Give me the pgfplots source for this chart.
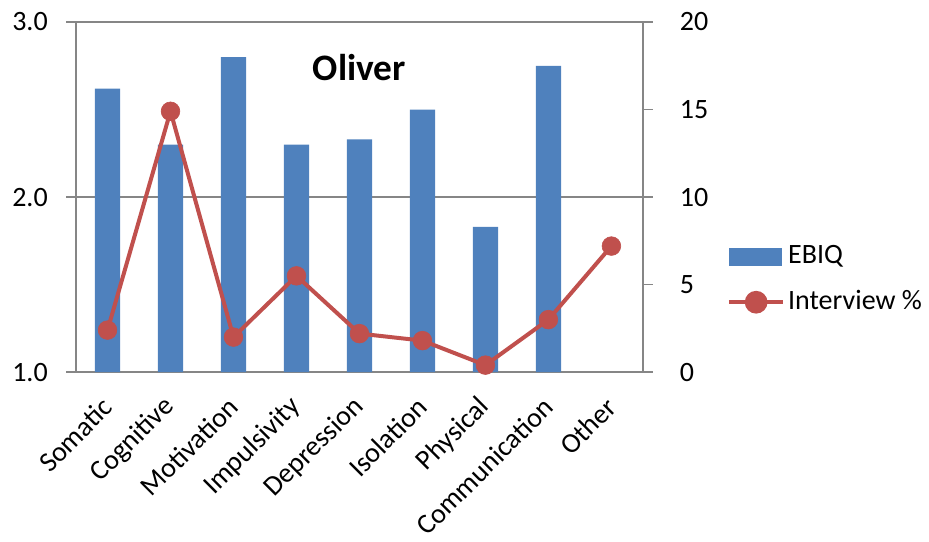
\documentclass[border=0pt]{standalone}
\usepackage{fontspec}
\setmainfont{Carlito}
\usepackage{pgfplots}
\pgfplotsset{compat=1.18}

\definecolor{barblue}{HTML}{4F81BD}
\definecolor{linered}{HTML}{C0504D}
\definecolor{axisgray}{HTML}{868686}

\begin{document}
\fontsize{21}{25}\selectfont
\begin{tikzpicture}
\pgfplotsset{
  common/.style={
    scale only axis,
    width=425pt, height=262.5pt,
    xmin=-0.5, xmax=8.5,
    /pgf/number format/assume math mode=true,
    tick label style={font=\fontsize{21}{25}\selectfont},
    axis line style={axisgray, line width=1pt},
    every tick/.style={axisgray, line width=1pt},
    major tick length=7.5pt,
  }
}
% EBIQ bars on the left axis
\begin{axis}[
  common,
  name=main,
  ymin=1, ymax=3,
  ytick={1,2,3},
  yticklabel style={/pgf/number format/.cd, fixed, fixed zerofill, precision=1,
    /tikz/.cd, anchor=east, inner sep=0pt, xshift=-13.5pt},
  axis y line*=left,
  axis x line*=bottom,
  ymajorgrids,
  grid style={axisgray, line width=1pt},
  xtick={0,...,8},
  xticklabels={Somatic,Cognitive,Motivation,Impulsivity,Depression,Isolation,Physical,Communication,Other},
  xticklabel style={rotate=45, anchor=east, inner sep=0pt, xshift=-10.8pt, yshift=-10.8pt},
  xtick style={draw=none},
  minor xtick={-0.5,0.5,...,8.5},
  minor tick length=7.5pt,
  every minor tick/.style={axisgray, line width=1pt},
  tick align=outside,
  ytick pos=left,
]
\addplot[ybar, bar width=0.4, fill=barblue, draw=none] coordinates {
  (0,2.62) (1,2.30) (2,2.80) (3,2.30) (4,2.33) (5,2.50) (6,1.83) (7,2.75)
};
\node[font=\fontsize{28}{32}\selectfont\bfseries] at (axis description cs:0.5,0.871) {Oliver};
\end{axis}
% Interview percentages on the right axis
\begin{axis}[
  common,
  ymin=0, ymax=20,
  ytick={0,5,10,15,20},
  yticklabel style={anchor=west, inner sep=0pt, xshift=20pt},
  axis y line*=right,
  axis x line=none,
  tick align=outside,
  legend style={at={(1.148,0.264)}, anchor=west, draw=none, fill=none,
    inner sep=0pt, outer sep=0pt,
    font=\fontsize{21}{25}\selectfont, row sep=13pt,
    /tikz/every even column/.append style={column sep=0pt}},
  legend cell align=left,
]
\addlegendimage{legend image code/.code={\fill[barblue] (0pt,-6.5pt) rectangle (39pt,6.5pt);}}
\addlegendentry{EBIQ}
\addplot[linered, line width=3pt, mark=*, mark size=7pt,
  mark options={fill=linered, draw=linered, line width=0.5pt},
  legend image code/.code={
    \draw[linered, line width=3pt] (0pt,0pt) -- (41pt,0pt);
    \fill[linered] (20.5pt,0pt) circle (7pt);}]
  coordinates {
  (0,2.4) (1,14.9) (2,2.0) (3,5.5) (4,2.2) (5,1.8) (6,0.4) (7,3.0) (8,7.2)
};
\addlegendentry{Interview \%}
\end{axis}
\pgfresetboundingbox
\path ([xshift=-57pt,yshift=-126.75pt]main.south west) rectangle ([xshift=214.5pt,yshift=16.5pt]main.north east);
\end{tikzpicture}
\end{document}
